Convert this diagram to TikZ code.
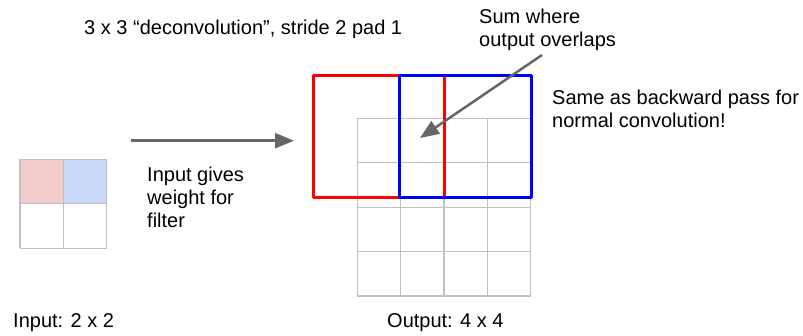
\documentclass[tikz,border=0pt]{standalone}
\usepackage{fontspec}
\setmainfont{Liberation Sans}
\usetikzlibrary{arrows.meta}

\definecolor{cellred}{HTML}{F4CCCC}
\definecolor{cellblue}{HTML}{C9DAF8}
\definecolor{arrowgray}{HTML}{666666}
\definecolor{gridgray}{HTML}{C0C0C0}

\begin{document}
\begin{tikzpicture}[
    x=1pt, y=1pt,
    font=\fontsize{20}{23}\selectfont,
    gridline/.style={
        draw=gridgray,
        line width=1.2pt
    },
    filterbox/.style={
        line width=3pt,
        line join=round
    },
    arrow/.style={
        -{Triangle[length=19pt, width=15pt]},
        draw=arrowgray,
        line width=2.5pt
    },
    note/.style={
        anchor=base west,
        inner sep=0pt,
        align=left
    }
]
    \useasboundingbox (0,0) rectangle (803,335);

    % Input 2 x 2
    \begin{scope}[shift={(20,86.7)}]
        \fill[cellred] (0,44.5) rectangle (43.35,89);
        \fill[cellblue] (43.35,44.5) rectangle (86.7,89);
        \draw[gridline, xstep=43.35, ystep=44.5] (0,0) grid (86.7,89);
    \end{scope}

    % Output 4 x 4
    \begin{scope}[shift={(357.3,39)}]
        \draw[gridline, xstep=43.35, ystep=44.4] (0,0) grid (173.4,177.6);
    \end{scope}

    % Filter windows (blue on top)
    \draw[filterbox, red] (313,137) rectangle (444,259);
    \draw[filterbox, blue] (399,137) rectangle (531,259);

    % Arrows
    \coordinate (inarrow) at (131,194.3);
    \coordinate (outarrow) at (294,194.3);
    \draw[arrow] (inarrow) -- (outarrow);

    \coordinate (overlaptail) at (542,280);
    \coordinate (overlap) at (420,197);
    \draw[arrow] (overlaptail) -- (overlap);

    % Labels (base = last line)
    \node[note] (title) at (84,300) {3 x 3 “deconvolution”, stride 2 pad 1};
    \node[note] (sum) at (479,288) {Sum where\\output overlaps};
    \node[note] (same) at (552,207) {Same as backward pass for\\normal convolution!};
    \node[note] (weight) at (147,107) {Input gives\\weight for\\filter};
    \node[note] (inlabel) at (13,8) {Input: 2 x 2};
    \node[note] (outlabel) at (387,8) {Output: 4 x 4};

\end{tikzpicture}
\end{document}
